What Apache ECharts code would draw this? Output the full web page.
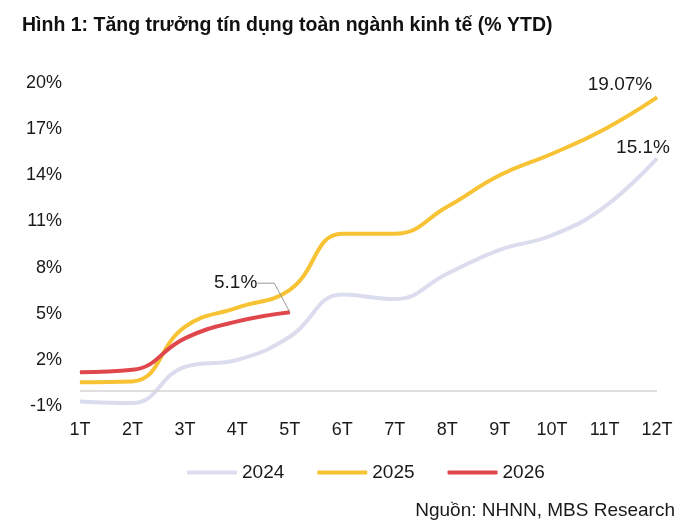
<!DOCTYPE html>
<html lang="vi">
<head>
<meta charset="UTF-8">
<title>Tăng trưởng tín dụng</title>
<script src="https://cdn.jsdelivr.net/npm/echarts@6/dist/echarts.min.js"></script>
<style>
  body { margin: 0; padding: 0; background: #fff; }
  #chart { width: 700px; height: 528px; }
</style>
</head>
<body>
<div id="chart"></div>
<script>
// thang 1 -> 12
var months = ['1T', '2T', '3T', '4T', '5T', '6T', '7T', '8T', '9T', '10T', '11T', '12T'];
var y2024 = [-0.7, -0.8, 1.55, 2.0, 3.5, 6.25, 5.95, 7.6, 9.15, 10.1, 11.95, 15.1];
var y2025 = [0.55, 0.6, 4.15, 5.4, 6.55, 10.2, 10.2, 11.95, 14.0, 15.4, 17.0, 19.07];
var y2026 = [1.2, 1.35, 3.4, 4.5, 5.1];

var font = 'Liberation Sans, Arial, sans-serif';
var txt = '#1a1a1a';

// chi hien nhan o diem cuoi
function lastLabel(arr, text, offset) {
    return arr.map(function (v, i) {
        if (i < arr.length - 1) return v;
        return {
            value: v,
            label: { show: true, position: 'top', formatter: text, offset: offset,
                     fontSize: 19, color: txt, fontFamily: font }
        };
    });
}

var data2026 = y2026.map(function (v, i) {
    if (i < y2026.length - 1) return v;
    return {
        value: v,
        label: { show: true, position: 'left', formatter: '5.1%', fontSize: 19,
                 color: txt, fontFamily: font, padding: [0, 6, 0, 0] },
        labelLine: { show: true, length2: 17, lineStyle: { color: '#9a9a9a', width: 1 } }
    };
});

var chart = echarts.init(document.getElementById('chart'));
chart.setOption({
    animation: false,
    backgroundColor: '#fff',
    textStyle: { fontFamily: font },
    title: [{
        text: 'Hình 1: Tăng trưởng tín dụng toàn ngành kinh tế (% YTD)',
        left: 17, top: 11,
        textStyle: { fontSize: 19.5, fontWeight: 'bold', color: '#111', fontFamily: font }
    }, {
        text: 'Nguồn: NHNN, MBS Research',
        right: 20, top: 496,
        textStyle: { fontSize: 19, fontWeight: 'normal', color: txt, fontFamily: font }
    }],
    legend: {
        bottom: 41,
        left: 182,
        itemWidth: 50,
        itemHeight: 4,
        itemGap: 33,
        icon: 'roundRect',
        textStyle: { fontSize: 19, color: txt, fontFamily: font },
        data: ['2024', '2025', '2026']
    },
    grid: { left: 80, right: 43, top: 83, bottom: 122 },
    xAxis: {
        type: 'category',
        data: months,
        boundaryGap: false,
        axisLine: { show: false },
        axisTick: { show: false },
        axisLabel: { fontSize: 18, color: txt, margin: 15, fontFamily: font }
    },
    yAxis: {
        type: 'value',
        min: -1, max: 20, interval: 3,
        splitLine: { show: false },
        axisLine: { show: false },
        axisTick: { show: false },
        axisLabel: { formatter: '{value}%', fontSize: 18, color: txt, margin: 18, fontFamily: font }
    },
    series: [{
        name: '2024',
        type: 'line',
        data: lastLabel(y2024, '15.1%', [-14, 4]),
        smooth: 0.45,
        symbol: 'circle',
        symbolSize: 1,
        lineStyle: { width: 4, color: '#dcdcef' },
        itemStyle: { color: '#dcdcef' },
        markLine: {
            silent: true, symbol: 'none', label: { show: false },
            lineStyle: { color: '#d4d4d4', width: 1.5, type: 'solid' },
            data: [{ yAxis: 0 }]
        }
    }, {
        name: '2025',
        type: 'line',
        data: lastLabel(y2025, '19.07%', [-37, 2]),
        smooth: 0.45,
        symbol: 'circle',
        symbolSize: 1,
        lineStyle: { width: 4, color: '#f7c234' },
        itemStyle: { color: '#f7c234' }
    }, {
        name: '2026',
        type: 'line',
        data: data2026,
        smooth: 0.45,
        symbol: 'circle',
        symbolSize: 1,
        lineStyle: { width: 4, color: '#e0474c' },
        itemStyle: { color: '#e0474c' },
        labelLayout: { dx: -21, dy: -29 }
    }]
});
</script>
</body>
</html>
